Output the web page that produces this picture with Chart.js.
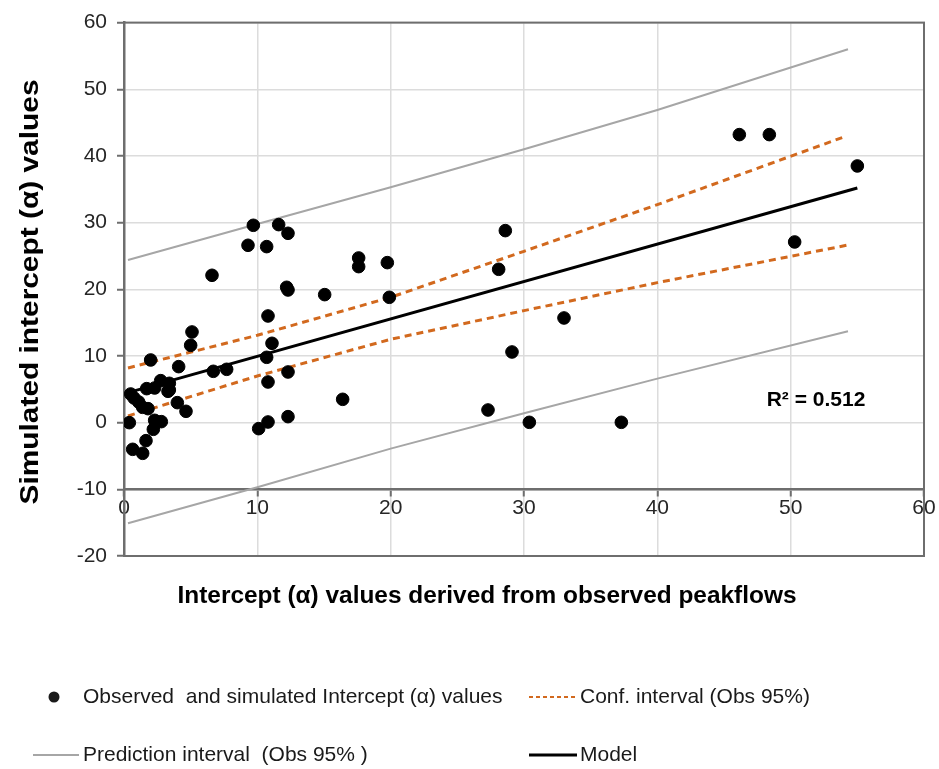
<!DOCTYPE html>
<html>
<head>
<meta charset="utf-8">
<script src="https://cdn.jsdelivr.net/npm/chart.js@4.4.1/dist/chart.umd.min.js"></script>
<style>
  html, body { margin: 0; padding: 0; background: #fff; }
  canvas { display: block; }
</style>
</head>
<body>
<canvas id="chart" width="939" height="769"></canvas>
<script>
const FONT = "'Liberation Sans', Arial, sans-serif";

// observed (x) vs simulated (y) intercept values
const obsX = [0.4, 0.5, 0.75, 1.1, 1.4, 1.8, 0.65, 1.4, 1.65, 2.0, 1.7, 2.3, 2.75, 3.3, 3.4, 3.4,
  2.3, 2.8, 2.2, 4.0, 4.1, 4.65, 5.1, 5.0, 6.7, 7.7, 6.6,
  9.3, 9.7, 10.7, 11.6, 12.3, 12.2, 12.3, 15.05, 10.8, 11.1, 10.7, 10.8, 12.3, 10.1, 10.8, 12.3, 16.4,
  17.6, 17.6, 19.75, 19.9, 28.1, 28.6, 33.0, 29.1, 27.3, 30.4, 37.3,
  46.15, 48.4, 50.3, 55.0];
const simY = [0, 4.3, 3.7, 3.1, 2.3, 2.1, -4.0, -4.6, -2.7, 9.4, 5.1, 5.2, 6.3, 4.7, 5.9, 4.9,
  0.35, 0.15, -1.0, 3.0, 8.4, 1.7, 13.6, 11.6, 7.7, 8.0, 22.1,
  26.6, 29.6, 26.4, 29.7, 28.4, 20.3, 19.9, 19.2, 16.0, 11.9, 9.8, 6.1, 7.6, -0.9, 0.1, 0.9, 3.5,
  24.7, 23.4, 24.0, 18.8, 23.0, 28.8, 15.7, 10.6, 1.9, 0.05, 0.05,
  43.2, 43.2, 27.1, 38.5];

const modelX = [0.3, 55.0];
const modelY = [4.5, 35.2];

const confX = [0.3, 10, 20, 30, 40, 54.2];
const confUpper = [8.2, 13.1, 18.8, 25.7, 32.7, 43.0];
const confLower = [1.0, 7.0, 12.5, 16.8, 21.0, 26.6];

const predX = [0.3, 10, 20, 30, 40, 54.3];
const predUpper = [24.4, 29.8, 35.3, 41.0, 46.9, 56.0];
const predLower = [-15.1, -9.7, -3.9, 1.4, 6.6, 13.7];

const xTicks = [0, 10, 20, 30, 40, 50, 60];
const yTicks = [-20, -10, 0, 10, 20, 30, 40, 50, 60];

const ORANGE = '#d2691e';
const GREY = '#a6a6a6';

function pairs(xs, ys) {
  return xs.map((x, i) => ({ x: x, y: ys[i] }));
}

function lineSet(label, xs, ys, color, width, dash) {
  return {
    label: label,
    data: pairs(xs, ys),
    showLine: true,
    borderColor: color,
    borderWidth: width,
    borderDash: dash || [],
    pointRadius: 0,
    fill: false
  };
}

// text squeezed/stretched to a given length (the original titles are set in a tall narrow face)
function stretchText(ctx, text, x, y, len, rot) {
  ctx.save();
  ctx.translate(x, y);
  ctx.rotate(rot);
  const w = ctx.measureText(text).width;
  ctx.scale(len / w, 1);
  ctx.fillText(text, 0, 0);
  ctx.restore();
}

// frame round the plot, titles, annotation and the legend
const extras = {
  id: 'extras',
  beforeDatasetsDraw(chart) {
    const { ctx, chartArea: a } = chart;
    ctx.save();
    ctx.strokeStyle = '#6e6e6e';
    ctx.lineWidth = 2;
    ctx.strokeRect(a.left, a.top, a.right - a.left, a.bottom - a.top);
    ctx.restore();
  },
  afterDraw(chart) {
    const ctx = chart.ctx;
    const xs = chart.scales.x, ys = chart.scales.y;
    ctx.save();
    ctx.fillStyle = '#000';
    ctx.textBaseline = 'middle';

    ctx.font = 'bold 21px ' + FONT;
    ctx.textAlign = 'left';
    ctx.fillText('R² = 0.512', xs.getPixelForValue(48.2), ys.getPixelForValue(3.4));

    ctx.textAlign = 'center';
    ctx.font = 'bold 23px ' + FONT;
    stretchText(ctx, 'Intercept (α) values derived from observed peakflows', 487, 597, 619, 0);
    ctx.font = 'bold 25px ' + FONT;
    stretchText(ctx, 'Simulated intercept (α) values', 31, 292, 425, -Math.PI / 2);

    // legend
    ctx.font = '21px ' + FONT;
    ctx.textAlign = 'left';
    ctx.fillStyle = '#1a1a1a';
    ctx.beginPath();
    ctx.arc(54, 697, 5.5, 0, Math.PI * 2);
    ctx.fill();
    ctx.fillText('Observed  and simulated Intercept (α) values', 83, 697);

    ctx.strokeStyle = ORANGE;
    ctx.lineWidth = 2;
    ctx.setLineDash([4, 3]);
    ctx.beginPath();
    ctx.moveTo(529, 697); ctx.lineTo(577, 697);
    ctx.stroke();
    ctx.setLineDash([]);
    ctx.fillText('Conf. interval (Obs 95%)', 580, 697);

    ctx.strokeStyle = GREY;
    ctx.lineWidth = 2;
    ctx.beginPath();
    ctx.moveTo(33, 755); ctx.lineTo(79, 755);
    ctx.stroke();
    ctx.fillText('Prediction interval  (Obs 95% )', 83, 755);

    ctx.strokeStyle = '#000';
    ctx.lineWidth = 3;
    ctx.beginPath();
    ctx.moveTo(529, 755); ctx.lineTo(577, 755);
    ctx.stroke();
    ctx.fillText('Model', 580, 755);
    ctx.restore();
  }
};

new Chart(document.getElementById('chart'), {
  type: 'scatter',
  data: {
    datasets: [
      {
        label: 'Observed  and simulated Intercept (α) values',
        data: pairs(obsX, simY),
        backgroundColor: '#000',
        borderColor: '#000',
        pointRadius: 6.3,
        pointHoverRadius: 6.3
      },
      lineSet('Model', modelX, modelY, '#000', 3),
      lineSet('Conf. interval (Obs 95%)', confX, confUpper, ORANGE, 3, [7, 5]),
      lineSet('Conf. interval lower', confX, confLower, ORANGE, 3, [7, 5]),
      lineSet('Prediction interval  (Obs 95% )', predX, predUpper, GREY, 2),
      lineSet('Prediction interval lower', predX, predLower, GREY, 2)
    ]
  },
  options: {
    responsive: false,
    animation: false,
    layout: { padding: { left: 0, right: 15, top: 19, bottom: 213 } },
    plugins: {
      legend: { display: false },
      tooltip: { enabled: false }
    },
    scales: {
      x: {
        type: 'linear',
        position: { y: -10 },
        min: 0,
        max: 60,
        afterBuildTicks: s => { s.ticks = xTicks.map(v => ({ value: v })); },
        ticks: { font: { family: FONT, size: 21 }, color: '#262626', padding: 0 },
        grid: { color: '#dcdcdc', lineWidth: 1.5, tickLength: 6, tickColor: '#6e6e6e', tickWidth: 2 },
        border: { color: '#6e6e6e', width: 2.5 }
      },
      y: {
        type: 'linear',
        min: -20,
        max: 60,
        afterBuildTicks: s => { s.ticks = yTicks.map(v => ({ value: v })); },
        afterFit: s => { s.width = 124; },
        ticks: { font: { family: FONT, size: 21 }, color: '#262626', padding: 10 },
        grid: { color: '#dcdcdc', lineWidth: 1.5, tickLength: 7, tickColor: '#6e6e6e', tickWidth: 2 },
        border: { color: '#6e6e6e', width: 2.5 }
      }
    }
  },
  plugins: [extras]
});
</script>
</body>
</html>
